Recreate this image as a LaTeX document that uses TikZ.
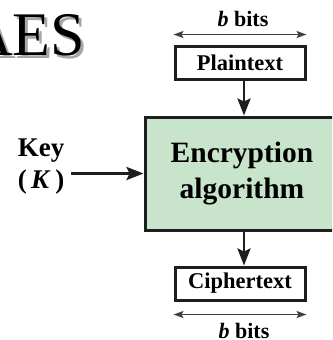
\documentclass[tikz,border=0pt]{standalone}
\usepackage{fontspec}
\setmainfont{Liberation Serif}
\usetikzlibrary{arrows.meta}
\definecolor{encgreen}{RGB}{200,228,203}
\definecolor{inkdark}{RGB}{30,30,30}
\tikzset{
  blockbox/.style={draw=inkdark, line width=3pt, inner sep=0pt},
  flow/.style={draw=inkdark, line width=2.8pt,
    -{Stealth[length=17pt,width=13pt,inset=3pt]}},
  span/.style={draw=inkdark!85, line width=1.4pt,
    {Stealth[length=10pt,width=7pt,inset=2pt]}-{Stealth[length=10pt,width=7pt,inset=2pt]}},
  lbl/.style={inner sep=0pt, font=\bfseries\fontsize{22.5}{26}\selectfont}
}
\begin{document}
\begin{tikzpicture}[x=1pt, y=-1pt]
  \useasboundingbox (0,0) rectangle (332,340);
  \clip (0,0) rectangle (332,340);

  % title with drop shadow
  \node[anchor=base west, inner sep=0pt, text=black!35,
        font=\fontsize{62}{70}\selectfont] at (-29,58) {AES};
  \node[anchor=base west, inner sep=0pt,
        font=\fontsize{62}{70}\selectfont] (title) at (-32,55) {AES};

  % plaintext block
  \node[blockbox, lbl, minimum width=130pt, minimum height=33pt] (plain) at (240,62.5) {Plaintext};
  \node[inner sep=0pt, anchor=base, font=\bfseries\fontsize{22}{26}\selectfont] (bitstop) at (243,27) {\textit{b} bits};
  \draw[span] ([yshift=10pt]plain.north west) -- ([yshift=10pt]plain.north east);

  % encryption block
  \node[blockbox, fill=encgreen, minimum width=194pt, minimum height=113pt,
        align=center, font=\bfseries\fontsize{29.5}{36}\selectfont] (enc) at (242,173.5)
        {Encryption\\algorithm};

  % key input
  \node[inner sep=0pt, align=center, font=\bfseries\fontsize{27}{32}\selectfont] (key) at (41,167)
        {Key\\(\,\textit{K}\,)};
  \draw[flow] ([xshift=7pt]key.east |- enc.west) -- (enc.west);

  % ciphertext block
  \node[blockbox, lbl, minimum width=130pt, minimum height=33pt] (cipher) at (240,283.5) {Ciphertext};
  \draw[span] ([yshift=-13pt]cipher.south west) -- ([yshift=-13pt]cipher.south east);
  \node[inner sep=0pt, anchor=base, font=\bfseries\fontsize{22}{26}\selectfont] (bitsbot) at (244,338) {\textit{b} bits};

  % data flow
  \draw[flow] ([xshift=4pt]plain.south) -- ([xshift=4pt]plain.south |- enc.north);
  \draw[flow] ([xshift=4pt]cipher.north |- enc.south) -- ([xshift=4pt]cipher.north);
\end{tikzpicture}
\end{document}
